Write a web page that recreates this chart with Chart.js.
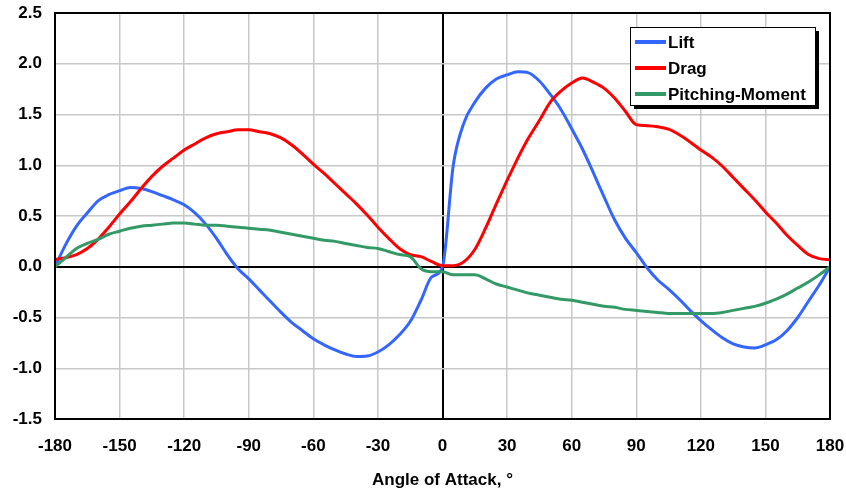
<!DOCTYPE html>
<html>
<head>
<meta charset="utf-8">
<script src="https://cdn.jsdelivr.net/npm/chart.js@4.4.0/dist/chart.umd.min.js"></script>
<style>
  html, body { margin: 0; padding: 0; background: #fff; }
  #wrap { width: 846px; height: 491px; }
</style>
</head>
<body>
<div id="wrap"><canvas id="myChart" width="846" height="491"></canvas></div>
<script>
// angle of attack, degrees
const angles = [-180, -175, -170, -165, -160, -155, -150, -145, -140, -135, -130, -125, -120,
  -115, -110, -105, -100, -95, -90, -85, -80, -75, -70, -65, -60, -55, -50, -45, -40, -35, -30,
  -25, -20, -15, -10, -5, 0, 5, 10, 15, 20, 25, 30, 35, 40, 45, 50, 55, 60, 65, 70, 75, 80, 85,
  90, 95, 100, 105, 110, 115, 120, 125, 130, 135, 140, 145, 150, 155, 160, 165, 170, 175, 180];

const lift = [0, 0.22, 0.40, 0.53, 0.65, 0.71, 0.75, 0.78, 0.77, 0.74, 0.70, 0.66, 0.61,
  0.53, 0.42, 0.28, 0.12, -0.02, -0.12, -0.23, -0.34, -0.45, -0.55, -0.63, -0.71, -0.77, -0.82,
  -0.86, -0.885, -0.88, -0.84, -0.77, -0.67, -0.54, -0.33, -0.10, 0, 1.0, 1.42, 1.62, 1.76, 1.85,
  1.89, 1.92, 1.91, 1.83, 1.70, 1.55, 1.36, 1.16, 0.93, 0.69, 0.46, 0.28, 0.14, -0.01, -0.13,
  -0.22, -0.32, -0.43, -0.53, -0.62, -0.70, -0.76, -0.79, -0.80, -0.77, -0.72, -0.63, -0.50,
  -0.34, -0.18, 0];

const drag = [0.07, 0.09, 0.12, 0.18, 0.27, 0.39, 0.52, 0.64, 0.77, 0.89, 0.99, 1.07, 1.15,
  1.21, 1.27, 1.31, 1.33, 1.35, 1.35, 1.33, 1.31, 1.27, 1.20, 1.11, 1.01, 0.92, 0.82, 0.72, 0.62,
  0.51, 0.39, 0.28, 0.18, 0.12, 0.10, 0.05, 0.01, 0.01, 0.05, 0.17, 0.38, 0.62, 0.85, 1.07, 1.27,
  1.44, 1.62, 1.73, 1.81, 1.86, 1.82, 1.76, 1.66, 1.53, 1.40, 1.39, 1.38, 1.355, 1.30, 1.23,
  1.15, 1.08, 0.99, 0.88, 0.77, 0.66, 0.54, 0.43, 0.31, 0.21, 0.12, 0.08, 0.07];

const pitching = [0, 0.09, 0.18, 0.23, 0.27, 0.32, 0.35, 0.38, 0.40, 0.41, 0.42, 0.43, 0.43,
  0.42, 0.41, 0.41, 0.40, 0.39, 0.38, 0.37, 0.36, 0.34, 0.32, 0.30, 0.28, 0.26, 0.25, 0.23, 0.21,
  0.19, 0.18, 0.15, 0.12, 0.10, -0.02, -0.05, -0.05, -0.08, -0.08, -0.08, -0.12, -0.17, -0.20,
  -0.23, -0.26, -0.28, -0.30, -0.32, -0.33, -0.35, -0.37, -0.39, -0.40, -0.42, -0.43, -0.44,
  -0.45, -0.46, -0.46, -0.46, -0.46, -0.46, -0.45, -0.43, -0.41, -0.39, -0.36, -0.32, -0.27,
  -0.21, -0.15, -0.08, 0];

const seriesNames = ['Lift', 'Drag', 'Pitching-Moment'];
const seriesColors = ['#3366ff', '#ff0000', '#339966'];
const xTicks = [-180, -150, -120, -90, -60, -30, 0, 30, 60, 90, 120, 150, 180];
const yTicks = [-1.5, -1.0, -0.5, 0.0, 0.5, 1.0, 1.5, 2.0, 2.5];

function toPoints(vals) {
  return angles.map((a, i) => ({ x: a, y: vals[i] }));
}

const FONT = 'Liberation Sans, Arial, sans-serif';

// frame around the plot + boxed legend with shadow
const framePlugin = {
  id: 'frame',
  afterDraw(chart) {
    const c = chart.ctx;
    const a = chart.chartArea;
    c.save();
    c.strokeStyle = '#000';
    c.lineWidth = 2;
    c.strokeRect(a.left, a.top, a.right - a.left, a.bottom - a.top);

    // legend
    const lx = 630, ly = 27, lw = 185, lh = 78;
    c.fillStyle = '#000';
    c.fillRect(lx + 4, ly + 4, lw, lh);
    c.fillStyle = '#fff';
    c.fillRect(lx, ly, lw, lh);
    c.lineWidth = 1;
    c.strokeRect(lx + 0.5, ly + 0.5, lw, lh);
    c.font = 'bold 17px ' + FONT;
    c.textBaseline = 'middle';
    chart.data.datasets.forEach((ds, i) => {
      const y = ly + 15 + i * 26;
      c.strokeStyle = ds.borderColor;
      c.lineWidth = 4;
      c.beginPath();
      c.moveTo(lx + 5, y);
      c.lineTo(lx + 36, y);
      c.stroke();
      c.fillStyle = '#000';
      c.fillText(ds.label, lx + 38, y + 1);
    });
    c.restore();
  }
};

const ctx = document.getElementById('myChart').getContext('2d');

const myChart = new Chart(ctx, {
  type: 'line',
  data: {
    datasets: [
      { label: seriesNames[0], data: toPoints(lift), borderColor: seriesColors[0], order: 2 },
      { label: seriesNames[1], data: toPoints(drag), borderColor: seriesColors[1], order: 1 },
      { label: seriesNames[2], data: toPoints(pitching), borderColor: seriesColors[2], order: 0 }
    ]
  },
  options: {
    responsive: false,
    animation: false,
    devicePixelRatio: 1,
    layout: { padding: { left: 0, top: 13, right: 16, bottom: 0 } },
    elements: {
      line: { borderWidth: 3, cubicInterpolationMode: 'monotone', fill: false },
      point: { radius: 0 }
    },
    plugins: {
      legend: { display: false },
      tooltip: { enabled: false }
    },
    scales: {
      x: {
        type: 'linear',
        min: -180,
        max: 180,
        afterBuildTicks: s => { s.ticks = xTicks.map(v => ({ value: v })); },
        afterFit: s => { s.height = 72; s.paddingLeft = 0; s.paddingRight = 0; },
        ticks: {
          color: '#000',
          font: { family: FONT, size: 17, weight: 'bold' },
          padding: 17,
          maxRotation: 0,
          autoSkip: false
        },
        grid: {
          color: c => c.tick && c.tick.value === 0 ? '#000' : '#c8c8c8',
          lineWidth: c => c.tick && c.tick.value === 0 ? 2 : 1.5,
          drawTicks: false
        },
        border: { display: false },
        title: {
          display: true,
          text: 'Angle of Attack, °',
          color: '#000',
          font: { family: FONT, size: 17, weight: 'bold' },
          padding: { top: 13, bottom: 0 }
        }
      },
      y: {
        min: -1.5,
        max: 2.5,
        afterBuildTicks: s => { s.ticks = yTicks.map(v => ({ value: v })); },
        afterFit: s => { s.width = 55; s.paddingTop = 0; s.paddingBottom = 0; },
        ticks: {
          color: '#000',
          font: { family: FONT, size: 17, weight: 'bold' },
          padding: 13,
          callback: v => v.toFixed(1)
        },
        grid: {
          color: c => c.tick && c.tick.value === 0 ? '#000' : '#c8c8c8',
          lineWidth: c => c.tick && c.tick.value === 0 ? 2 : 1.5,
          drawTicks: false
        },
        border: { display: false }
      }
    }
  },
  plugins: [framePlugin]
});
</script>
</body>
</html>
